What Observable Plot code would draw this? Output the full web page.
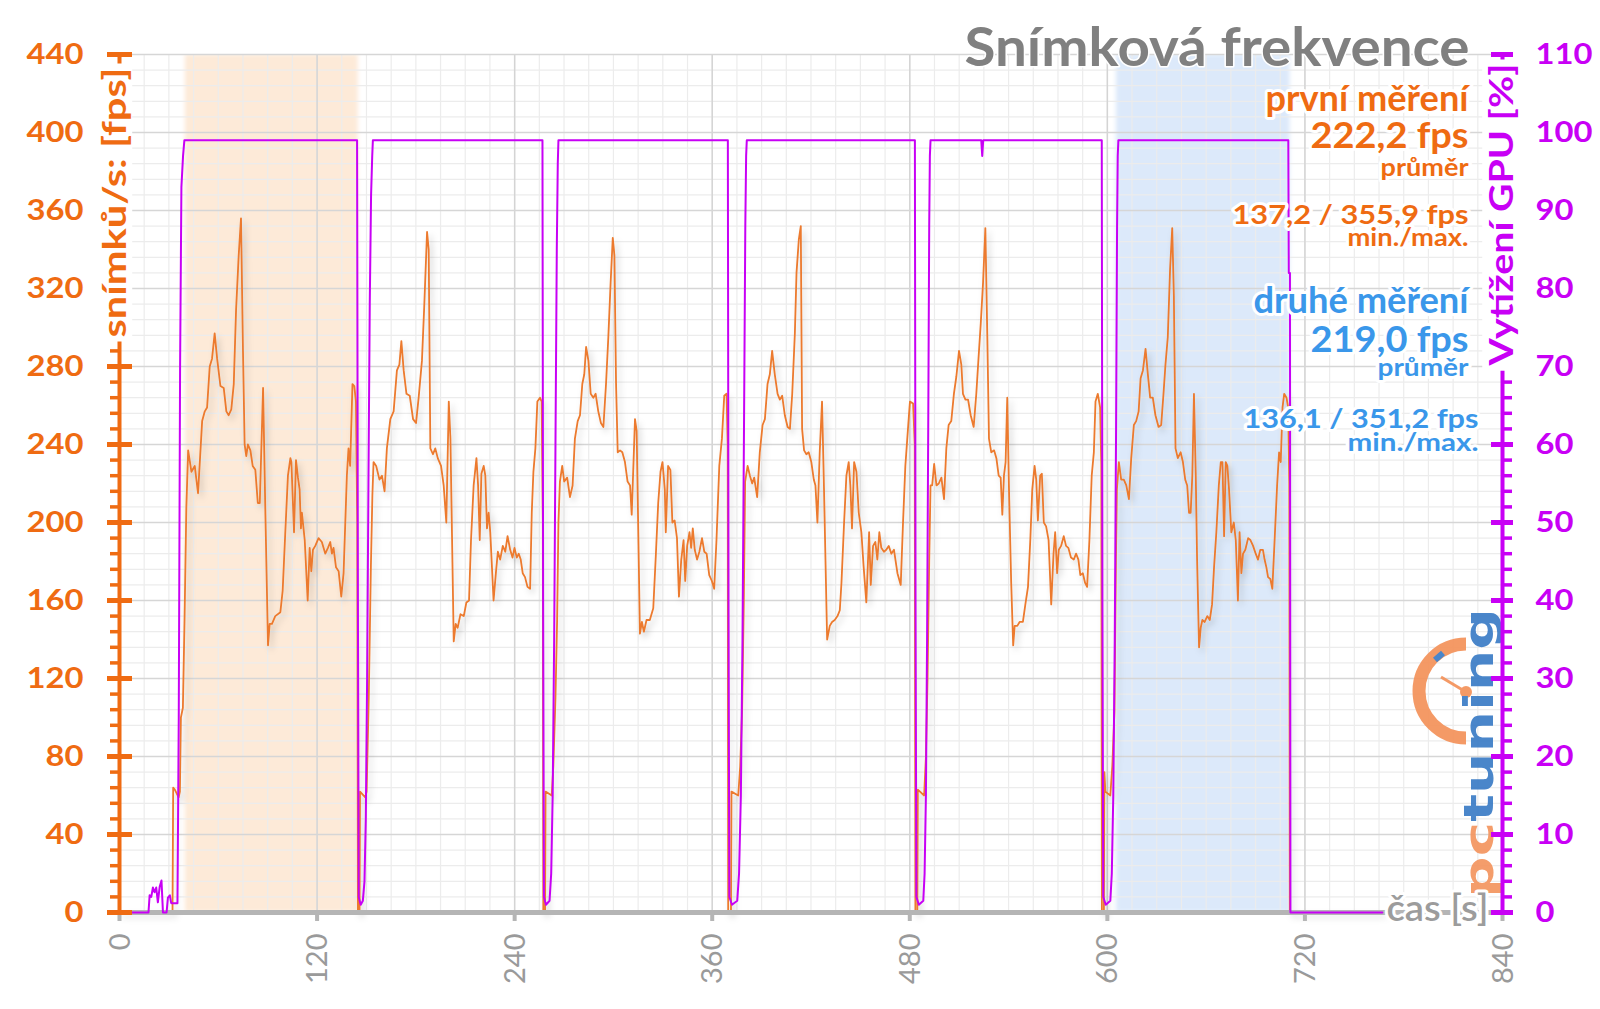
<!DOCTYPE html>
<html>
<head>
<meta charset="utf-8">
<script src="https://cdn.jsdelivr.net/npm/d3@7"></script>
<script src="https://cdn.jsdelivr.net/npm/@observablehq/plot@0.6"></script>
<style>
html,body{margin:0;padding:0;background:#fff;}
#chart{width:1600px;height:1009px;overflow:hidden;position:relative;}
</style>
</head>
<body>
<div id="chart"></div>
<script>
// ---------------- data ----------------
const fpsTicks = [0, 40, 80, 120, 160, 200, 240, 280, 320, 360, 400, 440];
const gpuTicks = [0, 10, 20, 30, 40, 50, 60, 70, 80, 90, 100, 110];
const timeTicks = [0, 120, 240, 360, 480, 600, 720, 840];

const chartTitle = "Snímková frekvence";
const leftTitle = "snímků/s: [fps]";
const rightTitle = "Vytížení GPU [%]";
const xTitle = "čas [s]";
const firstName = "první měření", firstAvg = "222,2 fps", firstMinMax = "137,2 / 355,9 fps";
const secondName = "druhé měření", secondAvg = "219,0 fps", secondMinMax = "136,1 / 351,2 fps";
const avgLabel = "průměr", minMaxLabel = "min./max.";

const firstWindow = [40, 145];
const secondWindow = [605.5, 711];

const fpsPrelude = [[0,0],[32.2,0],[32.6,64],[33.6,63],[35.9,59],[36.7,62],[37.3,100],[38.5,105],[39.5,150],[40.6,208]];
const fpsRun1 = [[41.7,237],[43.7,226],[45.7,229],[47.7,215],[50.2,252],[51.8,257],[53.2,259],[54.8,280],[56.2,284],[57.8,297],[59.3,284],[61.3,270],[63.3,269],[64.9,257],[66.3,255],[67.9,258],[69.4,271],[70.8,309],[72.4,337],[73.8,356],[75.0,288],[76.0,240],[77.0,234],[78.0,240],[79.5,237],[80.9,229],[82.5,227],[84.0,210],[85.2,210],[87.2,269],[88.6,205],[90.2,137],[91.2,148],[92.6,148],[94.6,152],[97.7,154],[99.1,165],[100.7,195],[102.3,224],[103.8,233],[104.4,231],[106,195],[107.2,232],[108.4,223],[109.4,217],[110.2,197],[110.8,205],[112.5,191],[114.3,160],[115.5,187],[116.5,175],[117.5,186],[118.9,188],[120.9,192],[122.9,190],[125,184],[126.6,187],[128,190],[129,184],[130,187],[131.5,177],[133.1,175],[134.7,162],[136.1,174],[138.1,224],[139.1,238],[140.1,229],[141.5,271],[142.6,270],[143.6,262],[144.4,200],[144.8,0]];
const fpsGap1 = [[145.8,0],[146.1,62],[149.3,59],[150.1,62],[151.4,110],[152.7,178],[153.6,214]];
const fpsRun2 = [[154.3,231],[155.9,229],[157.9,222],[159.4,224],[161.0,216],[162.4,238],[164.5,253],[166.5,257],[168.5,278],[170,281],[171.2,293],[172.6,278],[174.3,266],[176.3,265],[178.3,253],[180.1,251],[181.7,264],[183.7,283],[185.1,311],[186.8,349],[187.8,340],[188.8,238],[190.4,235],[191.8,238],[193.3,233],[195.3,229],[196.9,219],[198.5,200],[200,262],[201,243],[203,139],[204.2,148],[205.4,146],[207.1,153],[209.1,152],[210.7,159],[212.3,160],[213.5,191],[215.1,219],[216.8,233],[217.8,219],[218.8,191],[219.8,225],[221.2,229],[222.2,224],[223.2,197],[224.2,205],[225.2,195],[227.2,160],[228.6,174],[229.8,185],[231.2,181],[232.8,188],[234.3,185],[235.7,193],[237.3,186],[238.7,182],[239.9,187],[241.3,182],[242.5,184],[243.7,181],[244.9,174],[246.3,172],[247.8,167],[249.4,166],[250.4,205],[251.4,226],[252.6,238],[253.8,262],[255.4,264],[256.4,262],[257.1,200],[257.4,0]];
const fpsGap2 = [[258.5,0],[258.8,62],[262.5,60],[263.5,75],[264.8,110],[265.8,150],[266.6,200]];
const fpsRun3 = [[267.5,221],[268.9,229],[270.1,221],[271.9,223],[273.6,213],[275.2,219],[276.6,243],[278.3,252],[279.7,255],[281.1,271],[282.3,276],[283.4,290],[284.8,283],[286.2,266],[287.8,264],[289.2,266],[290.8,257],[292.4,251],[293.9,249],[295.5,271],[296.9,295],[298.3,323],[299.6,346],[300.6,337],[301.6,271],[302.6,236],[304.0,237],[305.4,236],[307.0,231],[308.6,221],[310.1,219],[311.1,204],[313.1,253],[314.1,247],[316.1,143],[317.3,149],[318.5,144],[320.1,150],[322.1,150],[324.2,156],[325.8,184],[327.2,210],[328.6,226],[329.8,231],[331.2,217],[331.8,195],[333.2,229],[334.6,227],[335.8,200],[337.2,201],[338.6,192],[339.8,162],[341.2,181],[342.6,191],[343.6,170],[344.8,188],[346.2,195],[347.2,187],[348.2,197],[349.4,186],[350.8,181],[352.2,185],[353.8,192],[355.2,185],[356.6,184],[358.2,173],[359.8,170],[361.2,166],[362.6,191],[364.3,229],[365.9,243],[367.3,265],[368.7,266],[369.4,240],[369.7,0]];
const fpsGap3 = [[371.4,0],[371.7,62],[375.8,60],[377,75],[378.2,105],[379.2,160]];
const fpsRun4 = [[380,221],[381.5,229],[382.9,224],[384.3,220],[385.5,223],[387.3,213],[388.9,236],[390.6,250],[392,253],[393.6,271],[395.0,276],[396.4,288],[398.0,276],[399.7,266],[401.1,263],[402.5,265],[404.1,255],[405.8,249],[407.2,248],[408.6,266],[410.2,297],[411.2,328],[412.6,345],[413.8,352],[414.6,248],[415.8,237],[417.2,235],[418.6,236],[420.2,231],[421.7,222],[422.7,219],[423.9,200],[425.3,236],[426.7,262],[427.9,217],[429.8,140],[431.4,147],[432.8,149],[434.4,150],[436.1,152],[437.5,155],[438.5,169],[440.1,200],[441.5,224],[442.9,231],[443.9,219],[444.9,197],[446.2,231],[447.6,226],[449.0,205],[450.6,195],[452,177],[453.6,159],[455.3,195],[456.3,168],[457.7,188],[459.1,190],[460.3,181],[461.5,195],[462.7,187],[464.3,185],[465.7,186],[467.2,188],[468.8,184],[470.4,186],[472.5,174],[474.5,168],[475.9,200],[477.3,229],[478.9,248],[480.1,262],[482,261],[483.0,240],[483.4,0]];
const fpsGap4 = [[484.6,0],[484.9,63],[488.7,60],[489.8,80],[490.8,120],[491.8,180]];
const fpsRun5 = [[492.6,219],[493.6,219],[494.8,230],[496.2,219],[497.6,220],[499.2,223],[500.8,212],[502.2,238],[503.6,250],[505.2,252],[506.8,266],[508.3,275],[509.9,288],[511.3,281],[512.3,266],[513.8,263],[515.4,263],[517.0,255],[518.8,249],[520.4,266],[521.8,285],[523.1,302],[524.5,323],[525.9,351],[527.1,295],[528.1,243],[529.5,236],[531.2,237],[532.6,233],[534.0,224],[535.2,223],[536.2,204],[537.2,224],[538.2,231],[539.2,264],[540.2,219],[541.6,169],[542.8,137],[543.7,147],[545.3,147],[546.7,149],[548.7,149],[550.2,158],[551.8,167],[553.2,191],[554.4,217],[555.8,229],[556.8,222],[557.8,201],[559.2,224],[560.2,225],[561.4,200],[562.8,198],[564.3,191],[565.9,158],[567.3,184],[568.3,195],[569.5,174],[570.5,186],[571.9,188],[573.5,193],[574.9,188],[576.3,187],[577.9,182],[579.6,181],[581,184],[582.4,181],[583.6,173],[585.1,174],[586.5,169],[587.7,167],[589.1,191],[590.5,224],[591.8,236],[592.8,262],[594.2,266],[595.6,259],[596.3,230],[596.7,0]];
const fpsGap5 = [[597.9,0],[598.2,72],[598.8,62],[601.8,60],[603,75],[604.3,103],[605.2,180]];
const fpsRun6 = [[605.8,217],[607,231],[608.4,222],[610,222],[611.5,219],[613.1,212],[614.5,233],[616.1,250],[617.5,252],[619.0,257],[620.2,274],[621.6,278],[623.2,289],[624.6,276],[626.0,264],[627.6,264],[629.2,255],[631.1,249],[632.7,250],[634.1,266],[635.3,281],[636.7,295],[638.1,330],[639.4,351],[640.4,316],[641.4,238],[642.8,233],[644.5,236],[645.9,231],[647.3,222],[648.5,219],[649.6,205],[650.6,205],[651.6,224],[652.6,266],[653.7,224],[654.5,181],[655.7,136],[656.7,146],[657.7,150],[659.1,149],[660.7,152],[662.2,150],[663.6,158],[664.8,177],[666.2,195],[667.7,219],[668.9,231],[669.9,231],[670.9,193],[671.9,231],[672.9,229],[673.9,217],[675.3,195],[676.8,200],[678,191],[679.3,160],[680.3,195],[681.4,174],[682.4,184],[683.8,186],[685.5,192],[686.9,191],[688.5,188],[690.1,184],[691.5,181],[692.9,186],[694.5,186],[695.5,181],[696.6,177],[697.6,172],[699.0,171],[700.2,166],[701.7,193],[703.1,219],[704.3,236],[705.3,231],[706.4,259],[707.4,266],[708.8,264],[709.8,259],[710.5,220],[710.8,0],[767,0]];

const gpuPrelude = [[0,0],[17.6,0],[18.3,2.2],[19.3,2],[20.3,3.2],[21.3,2.6],[22.3,3.2],[23.3,1.3],[24.4,3.3],[25.5,4.1],[26.4,0],[28.6,0],[29.4,1.9],[30.6,2.2],[31.4,1.2],[35.2,1.2],[36,25],[36.8,70],[37.6,93],[38.6,97],[39.4,99]];
const gpuGap1 = [[144.3,99],[144.8,40],[145.3,2],[146.5,1],[147.8,1.5],[148.8,4],[149.6,12],[150.4,30],[151.2,55],[152,78],[152.8,92],[153.5,97],[153.9,99]];
const gpuGap2 = [[256.9,99],[257.3,40],[257.8,2],[259,1],[261.2,1.5],[262.2,5],[263.1,15],[264,35],[264.8,60],[265.6,85],[266.2,96],[266.6,99]];
const gpuGap3 = [[369.5,99],[369.9,40],[370.4,2],[372,1],[375.2,1.5],[376.3,5],[377.4,15],[378.4,35],[379.3,62],[380.1,88],[380.6,97],[381,99]];
const gpuGap4 = [[483.1,99],[483.5,40],[484,2],[485.5,1],[488.2,1.5],[489,5],[489.8,15],[490.5,35],[491.2,62],[491.8,88],[492.2,97],[492.6,99]];
const gpuDip5 = [[523.4,99],[524,97],[524.6,99]];
const gpuGap5 = [[596.6,99],[597,40],[597.5,2],[599,1],[601.8,1.5],[602.7,5],[603.6,15],[604.5,35],[605.3,62],[605.9,88],[606.3,97],[606.7,99]];
const gpuEnd = [[709.9,99],[710.2,82],[710.9,82],[711.2,0],[767,0]];

// ---------------- build ----------------
const fpsData = [...fpsPrelude, ...fpsRun1, ...fpsGap1, ...fpsRun2, ...fpsGap2, ...fpsRun3, ...fpsGap3, ...fpsRun4, ...fpsGap4, ...fpsRun5, ...fpsGap5, ...fpsRun6];
const gpuData = [...gpuPrelude, ...gpuGap1, ...gpuGap2, ...gpuGap3, ...gpuGap4, ...gpuDip5, ...gpuGap5, ...gpuEnd];
const fpsRows = fpsData.map(([t, v]) => ({t, v}));
const gpuRows = gpuData.map(([t, v]) => ({t, v}));

const W = 1600, H = 1009, ML = 119, MR = 98, MT = 54, MB = 97;
const IW = W - ML - MR, IH = H - MT - MB;
const ORANGE = "#ef6b12", LINE_ORANGE = "#ec7a2e", PURPLE = "#c800f5", BLUE = "#3a97ea", GRAY = "#808080", AXGRAY = "#b5b5b5";
const BAND1 = "#fdead8", BAND2 = "#dce9fa";
const gpuToFps = v => v * 4; // 110 % on the right axis ↔ 440 fps on the left axis

const fpsMinor = d3.range(0, 441, 8).filter(v => v % 40);
const gpuMinor = d3.range(0, 111, 2).filter(v => v % 10);
const timeMinor = d3.range(0, 841, 15);

function note(text, right, baseline, size, color) {
  return Plot.text([text], {
    text: d => d, frameAnchor: "top-right", dx: right - (W - MR), dy: baseline - MT,
    textAnchor: "end", lineAnchor: "bottom", fontSize: size, fontWeight: "bold",
    fill: color, stroke: "white", strokeWidth: 6, paintOrder: "stroke", strokeLinejoin: "round"
  });
}

const plot = Plot.plot({
  width: W, height: H,
  marginLeft: ML, marginRight: MR, marginTop: MT, marginBottom: MB,
  x: {domain: [0, 840], axis: null},
  y: {domain: [0, 440], axis: null},
  style: {fontFamily: "Lato, 'Open Sans', sans-serif", background: "white", overflow: "visible"},
  marks: [
    Plot.rect([firstWindow], {x1: d => d[0], x2: d => d[1], fill: BAND1}),
    Plot.rect([secondWindow], {x1: d => d[0], x2: d => d[1], fill: BAND2}),
    Plot.ruleX(timeMinor, {stroke: "#ececec", strokeWidth: 1.2}),
    Plot.ruleY(fpsMinor, {stroke: "#ececec", strokeWidth: 1.2}),
    Plot.ruleX(timeTicks, {stroke: "#d4d4d4", strokeWidth: 1.5}),
    Plot.ruleY(fpsTicks, {stroke: "#d6d6d6", strokeWidth: 1.5}),
    Plot.line(fpsRows, {x: "t", y: "v", stroke: LINE_ORANGE, strokeWidth: 1.8}),
    Plot.ruleY([0], {stroke: AXGRAY, strokeWidth: 5}),
    Plot.tickX(timeTicks, {x: d => d, stroke: AXGRAY, strokeWidth: 4, insetTop: IH, insetBottom: -9}),
    Plot.line(gpuRows, {x: "t", y: d => gpuToFps(d.v), stroke: PURPLE, strokeWidth: 2}),
    // left axis
    Plot.ruleX([0], {stroke: ORANGE, strokeWidth: 4}),
    Plot.tickY(fpsTicks, {y: d => d, stroke: ORANGE, strokeWidth: 5, insetLeft: -12, insetRight: IW - 13}),
    Plot.tickY(fpsMinor, {y: d => d, stroke: ORANGE, strokeWidth: 3.5, insetLeft: -9, insetRight: IW}),
    // right axis
    Plot.ruleX([840], {stroke: PURPLE, strokeWidth: 4}),
    Plot.tickY(gpuTicks, {y: d => gpuToFps(d), stroke: PURPLE, strokeWidth: 5, insetLeft: IW - 11, insetRight: -11}),
    Plot.tickY(gpuMinor, {y: d => gpuToFps(d), stroke: PURPLE, strokeWidth: 3.5, insetLeft: IW, insetRight: -10}),
    // tick labels
    Plot.text(fpsTicks, {y: d => d, text: d => String(d), frameAnchor: "left", dx: -36, textAnchor: "end",
      fill: ORANGE, fontSize: 29, fontWeight: "bold"}),
    Plot.text(gpuTicks, {y: d => gpuToFps(d), text: d => String(d), frameAnchor: "right", dx: 33, textAnchor: "start",
      fill: PURPLE, fontSize: 29, fontWeight: "bold"}),
    Plot.text(timeTicks, {x: d => d, text: d => String(d), frameAnchor: "bottom", rotate: -90, dx: 10, dy: 21,
      textAnchor: "end", fill: "#9a9a9a", fontSize: 29}),
    // axis titles
    Plot.text([leftTitle], {text: d => d, frameAnchor: "top-left", dx: -16, dy: 148, rotate: -90,
      textAnchor: "middle", fill: ORANGE, fontSize: 32, fontWeight: "bold"}),
    Plot.text([rightTitle], {text: d => d, frameAnchor: "top-right", dx: -12, dy: 160, rotate: -90,
      textAnchor: "middle", fill: PURPLE, fontSize: 32, fontWeight: "bold"}),
    Plot.text([xTitle], {text: d => d, frameAnchor: "bottom-right", dx: 1386 - (W - MR), dy: 8,
      textAnchor: "start", lineAnchor: "bottom", fill: "#9c9c9c", fontSize: 37, fontWeight: 600,
      stroke: "white", strokeWidth: 6, paintOrder: "stroke", strokeLinejoin: "round"}),
    // title and notes
    Plot.text([chartTitle], {text: d => d, frameAnchor: "top-right", dx: 1469 - (W - MR), dy: 65 - MT,
      textAnchor: "end", lineAnchor: "bottom", fill: GRAY, fontSize: 54, fontWeight: "bold",
      stroke: "white", strokeWidth: 3, paintOrder: "stroke"}),
    note(firstName, 1468, 110, 36, ORANGE),
    note(firstAvg, 1468, 147, 36, ORANGE),
    note(avgLabel, 1468, 175, 24, ORANGE),
    note(firstMinMax, 1468, 223, 27, ORANGE),
    note(minMaxLabel, 1468, 245, 25, ORANGE),
    note(secondName, 1468, 312, 36, BLUE),
    note(secondAvg, 1468, 351, 36, BLUE),
    note(avgLabel, 1468, 375, 24, BLUE),
    note(secondMinMax, 1478, 427, 27, BLUE),
    note(minMaxLabel, 1478, 450, 25, BLUE)
  ]
});
document.getElementById("chart").append(plot);

// ---------------- post styling ----------------
const ns = "http://www.w3.org/2000/svg";
const svg = plot.tagName.toLowerCase() === "svg" ? plot : plot.querySelector("svg");
const defs = document.createElementNS(ns, "defs");
defs.innerHTML = `<filter id="soft" x="-10%" y="0%" width="120%" height="100%"><feGaussianBlur stdDeviation="2"/></filter>
<filter id="shadow" x="-2%" y="-5%" width="104%" height="110%"><feDropShadow dx="3" dy="4" stdDeviation="3" flood-color="#000" flood-opacity="0.18"/></filter>`;
svg.insertBefore(defs, svg.firstChild);
const gs = [...svg.querySelectorAll("g")];
gs.filter(g => g.getAttribute("fill") === BAND1 || g.getAttribute("fill") === BAND2).forEach(g => g.setAttribute("filter", "url(#soft)"));
const fl = gs.find(g => g.getAttribute("stroke") === LINE_ORANGE);

const allText = [...svg.querySelectorAll("text")];
const byText = s => allText.filter(t => t.textContent === s);
function fit(list, len) { list.forEach(t => { t.setAttribute("textLength", len); t.setAttribute("lengthAdjust", "spacingAndGlyphs"); }); }
fit(byText(chartTitle), 505);
fit(byText(firstName), 203); fit(byText(firstAvg), 158); fit(byText(firstMinMax), 236);
fit(byText(secondName), 215); fit(byText(secondAvg), 158); fit(byText(secondMinMax), 235);
const av = byText(avgLabel); fit(av.slice(0, 1), 88); fit(av.slice(1), 91);
const mm = byText(minMaxLabel); fit(mm.slice(0, 1), 121); fit(mm.slice(1), 131);
fit(byText(leftTitle), 270); fit(byText(rightTitle), 302); fit(byText(xTitle), 102);
for (const t of allText) {
  const tr = t.getAttribute("transform") || "";
  if (!tr.includes("rotate") && /^\d+$/.test(t.textContent)) {
    const l = t.getComputedTextLength();
    t.setAttribute("textLength", (l * 1.13).toFixed(1));
    t.setAttribute("lengthAdjust", "spacingAndGlyphs");
  }
}
// white boxes behind the axis titles (they hide the axis line there)
for (const t of [...byText(leftTitle), ...byText(rightTitle)]) {
  const bb = t.getBBox();
  const r = document.createElementNS(ns, "rect");
  r.setAttribute("x", bb.x - 4);
  r.setAttribute("y", bb.y + 1);
  r.setAttribute("width", bb.width + 8);
  r.setAttribute("height", bb.height - 2);
  r.setAttribute("fill", "white");
  r.setAttribute("stroke", "none");
  const tr = t.getAttribute("transform");
  if (tr) r.setAttribute("transform", tr);
  t.parentNode.insertBefore(r, t);
}
// pctuning logo (decoration), under the data lines
const logo = document.createElementNS(ns, "g");
logo.setAttribute("opacity", "0.92");
logo.innerHTML = `
<path d="M1466,644 A47,47 0 0 0 1466,738" fill="none" stroke="#f4925a" stroke-width="13"/>
<line x1="1435" y1="660" x2="1443" y2="653" stroke="#3b7cc6" stroke-width="6"/>
<line x1="1466" y1="692" x2="1441" y2="677" stroke="#f4925a" stroke-width="3"/>
<circle cx="1466" cy="692" r="6" fill="#f4925a"/>
<text transform="translate(1493,898) rotate(-90)" text-anchor="start" font-family="'DejaVu Sans', sans-serif" font-weight="bold" font-size="40" textLength="290" lengthAdjust="spacingAndGlyphs"><tspan fill="#f4955f">pc</tspan><tspan fill="#3b7cc6">tuning</tspan></text>`;
svg.insertBefore(logo, fl || null);
if (fl) fl.setAttribute("filter", "url(#shadow)");
</script>
</body>
</html>
